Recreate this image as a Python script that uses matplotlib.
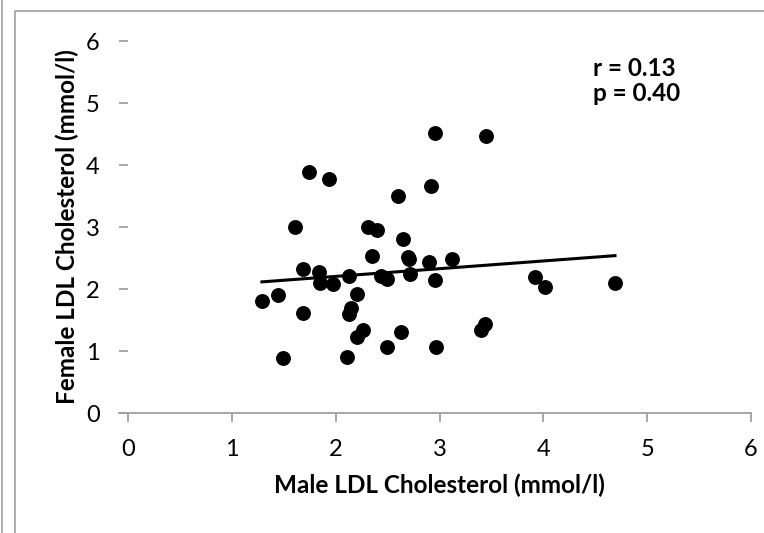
import numpy as np
import matplotlib.pyplot as plt
from matplotlib.lines import Line2D

plt.rcParams['font.family'] = ['Lato', 'DejaVu Sans']

# male vs female LDL cholesterol (mmol/l)
male_ldl = [1.29, 1.44, 1.49, 1.61, 1.69, 1.69, 1.74, 1.84, 1.85, 1.94,
            1.97, 2.11, 2.13, 2.13, 2.15, 2.21, 2.21, 2.26, 2.31, 2.35,
            2.40, 2.44, 2.49, 2.49, 2.60, 2.63, 2.65, 2.70, 2.71, 2.72,
            2.90, 2.92, 2.96, 2.96, 2.97, 3.12, 3.40, 3.44, 3.45, 3.92,
            4.02, 4.69]
female_ldl = [1.81, 1.90, 0.89, 3.00, 2.32, 1.61, 3.89, 2.27, 2.09, 3.77,
              2.08, 0.91, 2.21, 1.60, 1.69, 1.92, 1.22, 1.34, 3.00, 2.53,
              2.95, 2.21, 2.16, 1.06, 3.50, 1.31, 2.80, 2.52, 2.48, 2.24,
              2.43, 3.66, 4.52, 2.15, 1.06, 2.48, 1.34, 1.43, 4.47, 2.19,
              2.04, 2.10]
ticks = [0, 1, 2, 3, 4, 5, 6]
stats_text = ["r = 0.13", "p = 0.40"]

W, H = 764, 533
fig = plt.figure(figsize=(W / 100, H / 100), dpi=100)
ax = fig.add_axes([128 / W, (H - 413) / H, (751 - 128) / W, (413 - 41) / H])

x = np.array(male_ldl)
y = np.array(female_ldl)
ax.scatter(x, y, s=115, color='black', zorder=3, linewidths=0)

# linear trend line
slope, intercept = np.polyfit(x, y, 1)
xs = np.array([x.min(), x.max()])
ax.plot(xs, slope * xs + intercept, color='black', lw=2.2, zorder=2)

ax.set_xlim(0, 6)
ax.set_ylim(0, 6)
ax.set_xticks(ticks)
ax.set_yticks(ticks)

grey = '#a0a0a0'
for s in ['top', 'right', 'left']:
    ax.spines[s].set_visible(False)
ax.spines['bottom'].set_color(grey)
ax.spines['bottom'].set_linewidth(1.3)
ax.spines['bottom'].set_bounds(-9 / 103.8, 6)
ax.tick_params(axis='both', colors=grey, width=1.3, length=6.5, labelsize=17,
               labelcolor='black')
ax.tick_params(axis='x', pad=12)
ax.tick_params(axis='y', pad=14)

ax.set_xlabel("Male LDL Cholesterol (mmol/l)", fontsize=17.5, fontweight='bold',
              labelpad=10)
ax.set_ylabel("Female LDL Cholesterol (mmol/l)", fontsize=17.5, fontweight='bold',
              labelpad=5)

ax.text(0.746, 0.925, stats_text[0], transform=ax.transAxes, fontsize=17.5,
        fontweight='bold', va='center', ha='left')
ax.text(0.746, 0.86, stats_text[1], transform=ax.transAxes, fontsize=17.5,
        fontweight='bold', va='center', ha='left')

# chart frame like the spreadsheet export
fig.add_artist(Line2D([2 / W, 2 / W], [0, 1], transform=fig.transFigure,
                      color=grey, lw=1.2))
fig.add_artist(Line2D([15 / W, 15 / W, 1], [0, 1 - 11 / H, 1 - 11 / H],
                      transform=fig.transFigure, color=grey, lw=1.2))

fig.savefig("out.png", dpi=100)
